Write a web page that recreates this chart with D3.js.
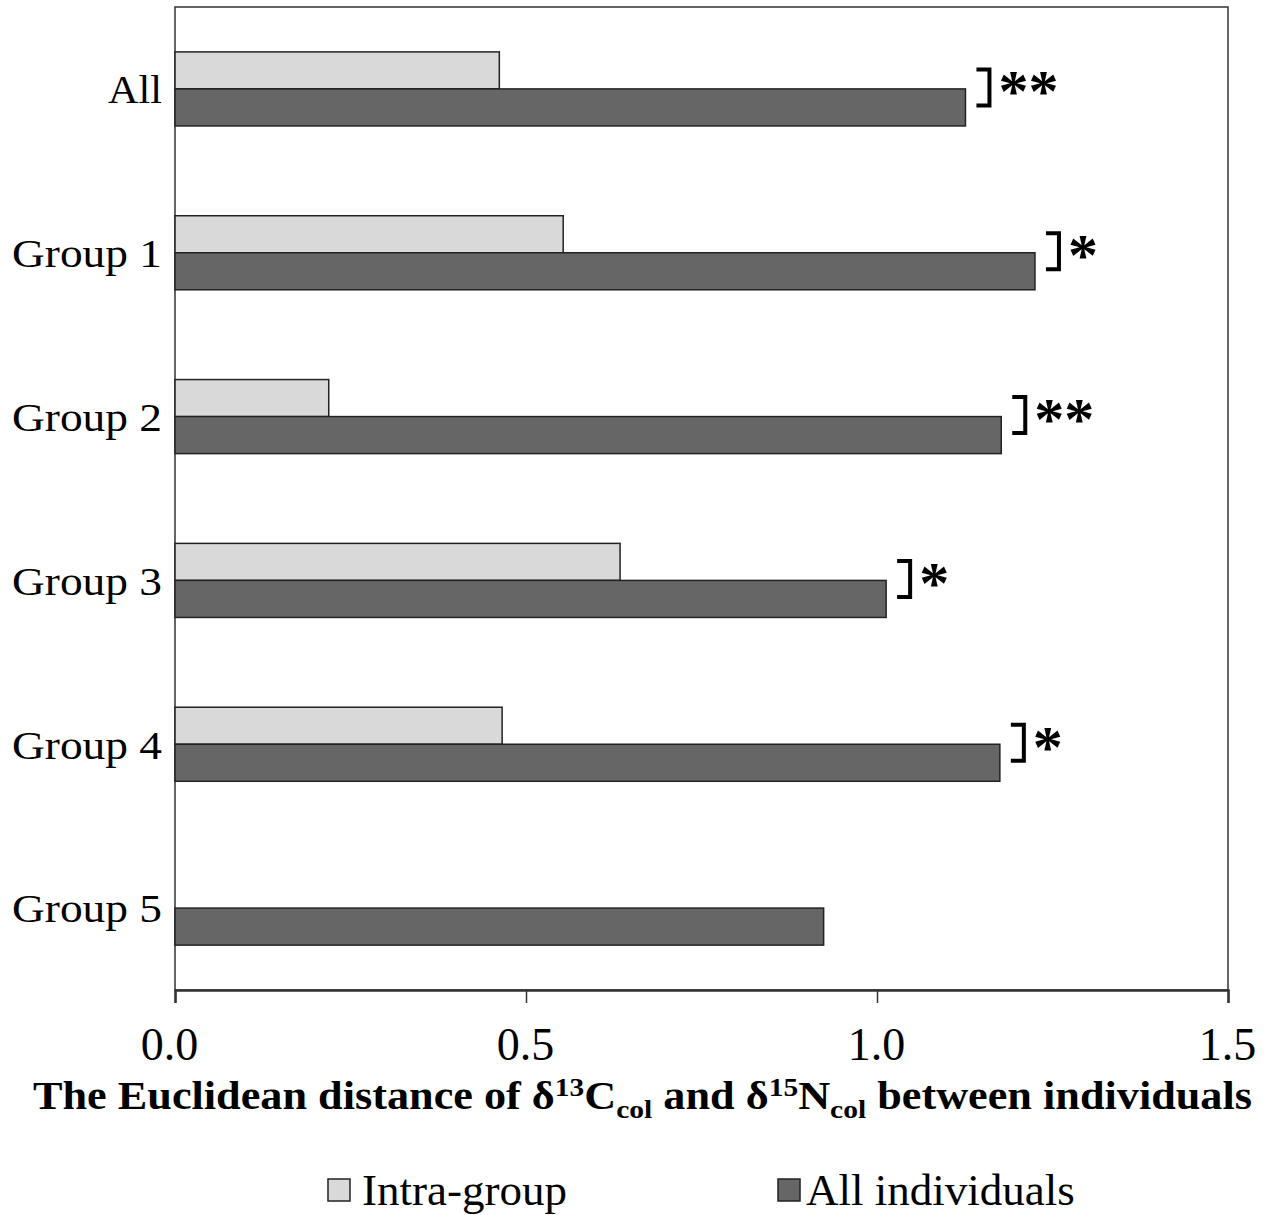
<!DOCTYPE html>
<html>
<head>
<meta charset="utf-8">
<script src="https://cdn.jsdelivr.net/npm/d3@7"></script>
<style>
  html, body { margin: 0; padding: 0; background: #fff; }
  svg { display: block; }
  text { font-family: "Liberation Serif", "Times New Roman", serif; fill: #000; }
</style>
</head>
<body>
<svg id="chart" width="1271" height="1215"></svg>
<script>
// Euclidean distances of δ13C / δ15N (collagen) between individuals
const categories = ["All", "Group 1", "Group 2", "Group 3", "Group 4", "Group 5"];
const intraGroup = [0.462, 0.553, 0.219, 0.634, 0.466, null];
const allIndividuals = [1.126, 1.225, 1.177, 1.013, 1.175, 0.924];
const significance = ["**", "*", "**", "*", "*", ""];
const seriesNames = ["Intra-group", "All individuals"];
const xTicks = [0, 0.5, 1.0, 1.5];

const colors = { intra: "#d9d9d9", all: "#666666" };

const svg = d3.select("#chart");
const plotLeft = 175, plotRight = 1228, plotTop = 7, plotBottom = 990;

const x = d3.scaleLinear().domain([0, 1.5]).range([plotLeft, plotRight]);
const y = d3.scaleBand().domain(categories).range([plotTop, plotBottom])
  .paddingInner(0.548).paddingOuter(0.274);
const ySub = d3.scaleBand().domain(["intra", "all"]).range([0, y.bandwidth()]);

const rows = categories.map((c, i) => ({
  cat: c, intra: intraGroup[i], all: allIndividuals[i], sig: significance[i]
}));

// plot frame
svg.append("rect")
  .attr("x", plotLeft).attr("y", plotTop)
  .attr("width", plotRight - plotLeft).attr("height", plotBottom - plotTop)
  .attr("fill", "none").attr("stroke", "#333").attr("stroke-width", 1.5);

// bars
const g = svg.append("g");
["intra", "all"].forEach(key => {
  g.selectAll("rect." + key)
    .data(rows.filter(r => r[key] != null))
    .join("rect")
    .attr("class", key)
    .attr("x", x(0))
    .attr("y", d => y(d.cat) + ySub(key))
    .attr("width", d => x(d[key]) - x(0))
    .attr("height", ySub.bandwidth())
    .attr("fill", colors[key])
    .attr("stroke", "#222")
    .attr("stroke-width", 1.5);
});

// significance brackets and stars
const sigRows = rows.filter(r => r.sig && r.intra != null);
sigRows.forEach(r => {
  const bx = x(Math.max(r.intra, r.all)) + 11;
  const y1 = y(r.cat) + ySub("intra") + ySub.bandwidth() / 2 - 1;
  const y2 = y(r.cat) + ySub("all") + ySub.bandwidth() / 2 - 2;
  svg.append("path")
    .attr("d", `M${bx},${y1} H${bx + 13} V${y2} H${bx}`)
    .attr("fill", "none").attr("stroke", "#000").attr("stroke-width", 4);
  svg.append("text")
    .attr("x", bx + 22).attr("y", y1 + 42)
    .attr("font-size", 60).attr("font-weight", "bold")
    .text(r.sig);
});

// category labels (set slightly wide)
const labelWidth = d => d === "All" ? 54 : 150;
svg.append("g").selectAll("text")
  .data(categories)
  .join("text")
  .attr("x", d => 162 - labelWidth(d))
  .attr("y", d => y(d) + y.bandwidth() / 2)
  .attr("dy", "0.36em")
  .attr("font-size", 40)
  .attr("textLength", labelWidth)
  .attr("lengthAdjust", "spacingAndGlyphs")
  .text(d => d);

// x axis
const xAxis = svg.append("g")
  .attr("transform", `translate(0,${plotBottom})`)
  .call(d3.axisBottom(x).tickValues(xTicks).tickFormat(d3.format(".1f"))
    .tickSize(13).tickPadding(24));
xAxis.select(".domain").attr("stroke", "#333").attr("stroke-width", 2.5);
xAxis.selectAll(".tick line").attr("stroke", "#333").attr("stroke-width", 1.5);
xAxis.selectAll(".tick text")
  .attr("font-family", "Liberation Serif, serif")
  .attr("font-size", 46).attr("fill", "#000")
  .attr("dx", d => d === 0 ? -6 : -1);

// axis title with super/subscripts
const title = svg.append("text")
  .attr("x", 33).attr("y", 1109)
  .attr("font-size", 39).attr("font-weight", "bold")
  .attr("textLength", 1219)
  .attr("lengthAdjust", "spacingAndGlyphs");
const parts = [
  ["The Euclidean distance of δ", 0, 39],
  ["13", -13, 26], ["C", 13, 39], ["col", 9, 26],
  [" and δ", -9, 39], ["15", -13, 26], ["N", 13, 39], ["col", 9, 26],
  [" between individuals", -9, 39]
];
parts.forEach(([t, dy, fs]) => {
  title.append("tspan").attr("dy", dy).attr("font-size", fs).text(t);
});

// legend
const legend = svg.append("g");
const legendItems = [
  { name: seriesNames[0], color: colors.intra, x: 328, gap: 34 },
  { name: seriesNames[1], color: colors.all, x: 778, gap: 28 }
];
legendItems.forEach(it => {
  legend.append("rect")
    .attr("x", it.x).attr("y", 1179).attr("width", 22).attr("height", 22)
    .attr("fill", it.color).attr("stroke", "#222").attr("stroke-width", 1.5);
  legend.append("text")
    .attr("x", it.x + it.gap).attr("y", 1205)
    .attr("font-size", 45)
    .text(it.name);
});
</script>
</body>
</html>
